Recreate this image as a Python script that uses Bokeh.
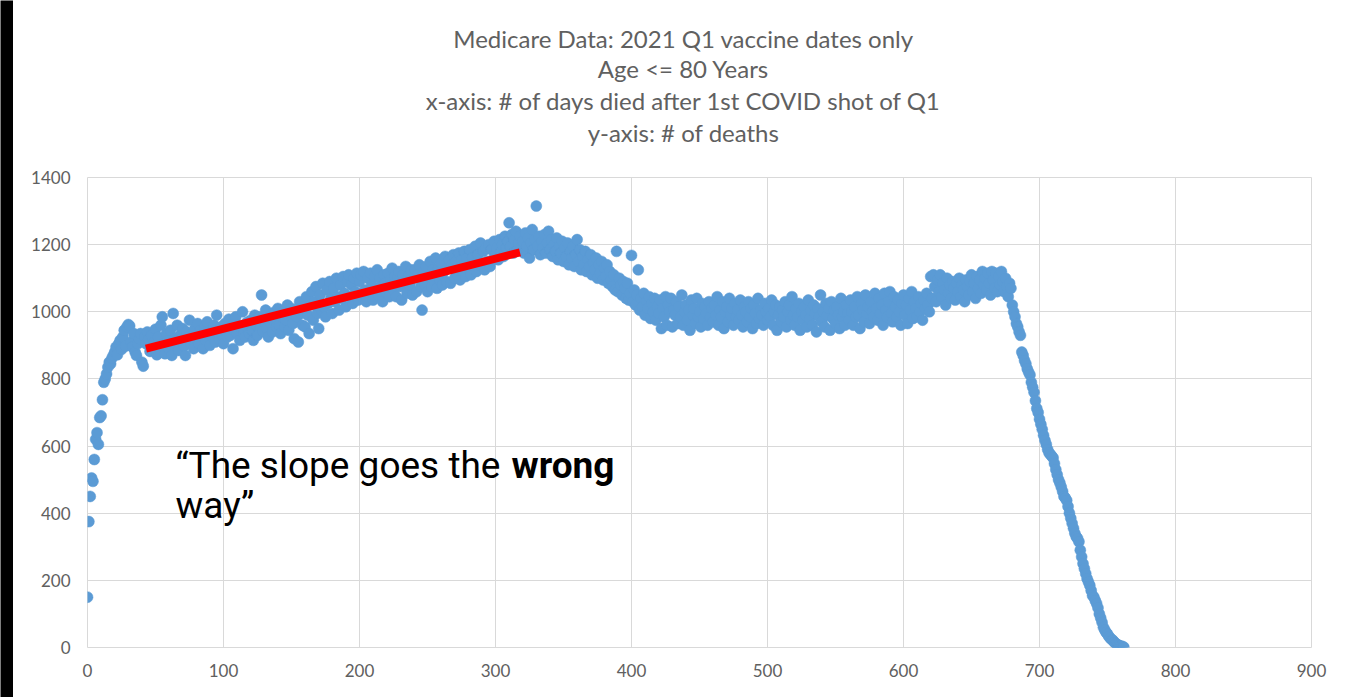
from bokeh.plotting import figure
from bokeh.models import Range1d, Label, FixedTicker
from bokeh.layouts import row, column
from bokeh.embed import file_html
from bokeh.resources import INLINE

# ---- data ----
deaths = [
    150, 375, 450, 505, 495, 560, 620, 640, 605, 685, 690, 738, 790, 800, 815, 835, 850, 845, 862, 870,
    880, 895, 872, 905, 915, 888, 925, 945, 898, 955, 962, 958, 910, 895, 935, 880, 870, 905, 920, 935,
    850, 838, 925, 905, 940, 918, 882, 930, 895, 910, 948, 872, 925, 890, 960, 985, 905, 875, 935, 915,
    890, 945, 870, 995, 920, 905, 960, 885, 930, 912, 950, 898, 870, 940, 925, 975, 905, 935, 890, 950,
    920, 965, 905, 945, 930, 890, 955, 915, 970, 935, 900, 948, 925, 960, 910, 990, 940, 918, 955, 930,
    905, 965, 940, 925, 978, 930, 955, 890, 945, 985, 935, 960, 915, 950, 1000, 940, 925, 968, 952, 935,
    975, 945, 915, 990, 960, 930, 985, 955, 1050, 942, 970, 1005, 950, 925, 985, 965, 940, 998, 975, 955,
    1010, 960, 935, 985, 1000, 955, 975, 1020, 945, 990, 1010, 965, 920, 1000, 985, 910, 1030, 995, 960, 1015,
    955, 1045, 990, 935, 1020, 1060, 975, 1030, 1075, 995, 950, 1050, 1005, 1085, 1015, 985, 1065, 1025, 1090, 1040,
    995, 1070, 1030, 1100, 1045, 1005, 1080, 1040, 1105, 1055, 1015, 1090, 1110, 1045, 1080, 1025, 1100, 1060, 1115, 1035,
    1090, 1110, 1045, 1120, 1065, 1030, 1100, 1060, 1115, 1080, 1035, 1105, 1070, 1125, 1050, 1100, 1075, 1030, 1110, 1085,
    1055, 1115, 1045, 1095, 1130, 1065, 1105, 1045, 1100, 1120, 1075, 1035, 1110, 1085, 1135, 1055, 1105, 1080, 1125, 1050,
    1100, 1125, 1060, 1110, 1140, 1075, 1005, 1120, 1080, 1135, 1060, 1105, 1150, 1075, 1125, 1090, 1160, 1070, 1130, 1095,
    1145, 1080, 1120, 1165, 1090, 1130, 1155, 1085, 1140, 1170, 1100, 1150, 1110, 1175, 1095, 1155, 1120, 1180, 1105, 1160,
    1130, 1185, 1110, 1160, 1135, 1195, 1120, 1170, 1140, 1205, 1145, 1180, 1125, 1190, 1150, 1200, 1135, 1185, 1155, 1210,
    1170, 1190, 1155, 1215, 1180, 1200, 1165, 1225, 1190, 1210, 1265, 1195, 1230, 1175, 1215, 1240, 1185, 1205, 1225, 1190,
    1210, 1175, 1235, 1195, 1220, 1160, 1205, 1245, 1185, 1215, 1315, 1195, 1225, 1170, 1210, 1190, 1230, 1175, 1205, 1240,
    1185, 1215, 1165, 1200, 1180, 1220, 1155, 1195, 1175, 1210, 1150, 1190, 1165, 1205, 1140, 1180, 1160, 1195, 1135, 1170,
    1215, 1150, 1185, 1125, 1165, 1140, 1180, 1120, 1155, 1135, 1170, 1110, 1145, 1125, 1160, 1100, 1140, 1115, 1150, 1095,
    1130, 1105, 1140, 1085, 1120, 1095, 1075, 1110, 1065, 1180, 1060, 1100, 1080, 1050, 1090, 1070, 1040, 1085, 1035, 1055,
    1168, 1030, 1065, 1020, 1050, 1125, 1005, 1040, 1015, 1055, 990, 1030, 1010, 1045, 980, 1025, 1000, 1040, 975, 1015,
    995, 1035, 950, 1010, 985, 1045, 960, 1020, 1000, 1040, 955, 1005, 990, 1030, 965, 1015, 985, 1050, 960, 1000,
    1020, 975, 1005, 945, 1035, 990, 1010, 965, 1040, 985, 1000, 955, 1025, 980, 1015, 995, 960, 1030, 985, 1010,
    970, 1020, 990, 1045, 960, 1005, 985, 1030, 950, 1000, 1015, 970, 1040, 990, 1010, 960, 1025, 985, 1005, 975,
    1035, 990, 955, 1015, 1000, 970, 1030, 985, 1010, 950, 1020, 995, 965, 1040, 980, 1005, 990, 960, 1025, 1000,
    975, 1010, 985, 1035, 960, 1000, 1020, 945, 990, 1015, 970, 1005, 985, 1030, 955, 1000, 1020, 975, 1045, 990,
    960, 1010, 985, 1025, 945, 1000, 975, 1015, 990, 955, 1035, 980, 1005, 960, 1020, 995, 940, 1010, 985, 1050,
    970, 1000, 955, 1025, 990, 1010, 945, 1030, 980, 1005, 965, 1015, 990, 950, 1040, 985, 1000, 960, 1020, 995,
    975, 1035, 1000, 960, 1015, 985, 1045, 990, 950, 1025, 1005, 970, 1050, 995, 1015, 965, 1030, 1000, 985, 1055,
    1010, 975, 1040, 995, 1020, 960, 1055, 1005, 985, 1030, 1060, 995, 970, 1045, 1015, 985, 1035, 1000, 960, 1025,
    1050, 990, 1020, 965, 1040, 1005, 1060, 980, 1030, 1010, 985, 1045, 1000, 1025, 975, 1035, 1010, 1055, 1020, 1000,
    1105, 1040, 1110, 1075, 1030, 1095, 1060, 1110, 1045, 1085, 1065, 1020, 1100, 1055, 1080, 1040, 1090, 1070, 1035, 1085,
    1060, 1100, 1045, 1080, 1065, 1030, 1095, 1075, 1050, 1090, 1110, 1060, 1085, 1040, 1105, 1070, 1095, 1055, 1120, 1080,
    1100, 1065, 1115, 1085, 1050, 1120, 1095, 1070, 1115, 1060, 1105, 1080, 1120, 1090, 1060, 1100, 1075, 1045, 1085, 1070,
    1020, 1000, 985, 965, 955, 940, 930, 880, 870, 855, 845, 830, 820, 812, 790, 775, 760, 735, 712, 700,
    680, 665, 650, 632, 617, 605, 590, 580, 575, 570, 565, 548, 530, 515, 500, 490, 478, 465, 450, 445,
    438, 420, 400, 385, 370, 355, 340, 330, 325, 315, 290, 270, 250, 235, 220, 205, 195, 185, 170, 155,
    150, 140, 131, 118, 100, 88, 75, 60, 52, 45, 40, 33, 28, 24, 21, 16, 12, 9, 7, 5,
    4, 3, 1,
]
days = list(range(len(deaths)))

slope_x = [43, 318]
slope_y = [890, 1177]

x_ticks = [0, 100, 200, 300, 400, 500, 600, 700, 800, 900]
y_ticks = [0, 200, 400, 600, 800, 1000, 1200, 1400]

title_lines = [
    "Medicare Data: 2021 Q1 vaccine dates only",
    "Age <= 80 Years",
    "x-axis: # of days died after 1st COVID shot of Q1",
    "y-axis: # of deaths",
]

GRAY = "#606060"
GRID = "#d9d9d9"
TFONT = "Lato"
W = 1333
BL, BR = 74, 35


def blank(fig):
    fig.axis.visible = False
    fig.grid.visible = False
    fig.outline_line_color = None
    return fig


# left black edge of the screenshot
edge = blank(figure(width=13, height=697, output_backend="svg", toolbar_location=None,
                    min_border=0, x_range=Range1d(0, 1), y_range=Range1d(0, 1)))
edge.background_fill_color = "black"
edge.border_fill_color = "black"

# top black edge of the screenshot
topedge = blank(figure(width=W, height=4, output_backend="svg", toolbar_location=None,
                       min_border_left=BL, min_border_right=BR, min_border_top=0, min_border_bottom=0,
                       x_range=Range1d(0, 1), y_range=Range1d(0, 1)))
topedge.background_fill_color = "black"
topedge.border_fill_color = "black"

# title block
FW = W - BL - BR
tp = blank(figure(width=W, height=163, output_backend="svg", toolbar_location=None,
                  x_range=Range1d(0, FW), y_range=Range1d(0, 163),
                  min_border_left=BL, min_border_right=BR, min_border_bottom=0, min_border_top=0))
tp.background_fill_color = "white"
tp.border_fill_color = "white"
title_y = [129, 99, 67, 35]
for t, yy in zip(title_lines, title_y):
    tp.add_layout(Label(x=596, y=yy, text=t, text_font=TFONT, text_font_size="24px",
                        text_color=GRAY, text_align="center", text_baseline="middle"))

# main chart
p = figure(width=W, height=530, output_backend="svg", toolbar_location=None,
           x_range=Range1d(0, 900), y_range=Range1d(0, 1400),
           min_border_left=BL, min_border_right=BR, min_border_top=10, min_border_bottom=50)
p.background_fill_color = "white"
p.border_fill_color = "white"
p.outline_line_color = GRID

for ax in (p.xaxis[0], p.yaxis[0]):
    ax.axis_line_color = None
    ax.major_tick_line_color = None
    ax.minor_tick_line_color = None
    ax.major_tick_out = 0
    ax.major_tick_in = 0
    ax.major_label_text_color = GRAY
    ax.major_label_text_font = TFONT
    ax.major_label_text_font_size = "17px"
p.xaxis[0].ticker = FixedTicker(ticks=x_ticks)
p.yaxis[0].ticker = FixedTicker(ticks=y_ticks)
p.xaxis[0].major_label_standoff = 16
p.yaxis[0].major_label_standoff = 17

p.xgrid[0].ticker = FixedTicker(ticks=x_ticks)
p.ygrid[0].ticker = FixedTicker(ticks=y_ticks)
p.xgrid.grid_line_color = GRID
p.ygrid.grid_line_color = GRID
p.xgrid.grid_line_width = 1
p.ygrid.grid_line_width = 1

p.scatter(days, deaths, size=11, fill_color="#5B9BD5", line_color="#5B9BD5", line_width=0.5)

p.line(slope_x, slope_y, line_color="#ff0000", line_width=8, line_cap="butt")

# annotation
p.add_layout(Label(x=88, y=182, x_units="screen", y_units="screen",
                   text="\u201cThe slope goes the", text_font="Roboto", text_font_size="37px",
                   text_color="black", text_align="left", text_baseline="alphabetic"))
p.add_layout(Label(x=424, y=182, x_units="screen", y_units="screen",
                   text="wrong", text_font="Roboto", text_font_size="37px", text_font_style="bold",
                   text_color="black", text_align="left", text_baseline="alphabetic"))
p.add_layout(Label(x=88, y=142, x_units="screen", y_units="screen",
                   text="way\u201d", text_font="Roboto", text_font_size="37px",
                   text_color="black", text_align="left", text_baseline="alphabetic"))

layout = row(edge, column(topedge, tp, p, spacing=0), spacing=0)

open("out.html", "w").write(file_html(layout, INLINE))
